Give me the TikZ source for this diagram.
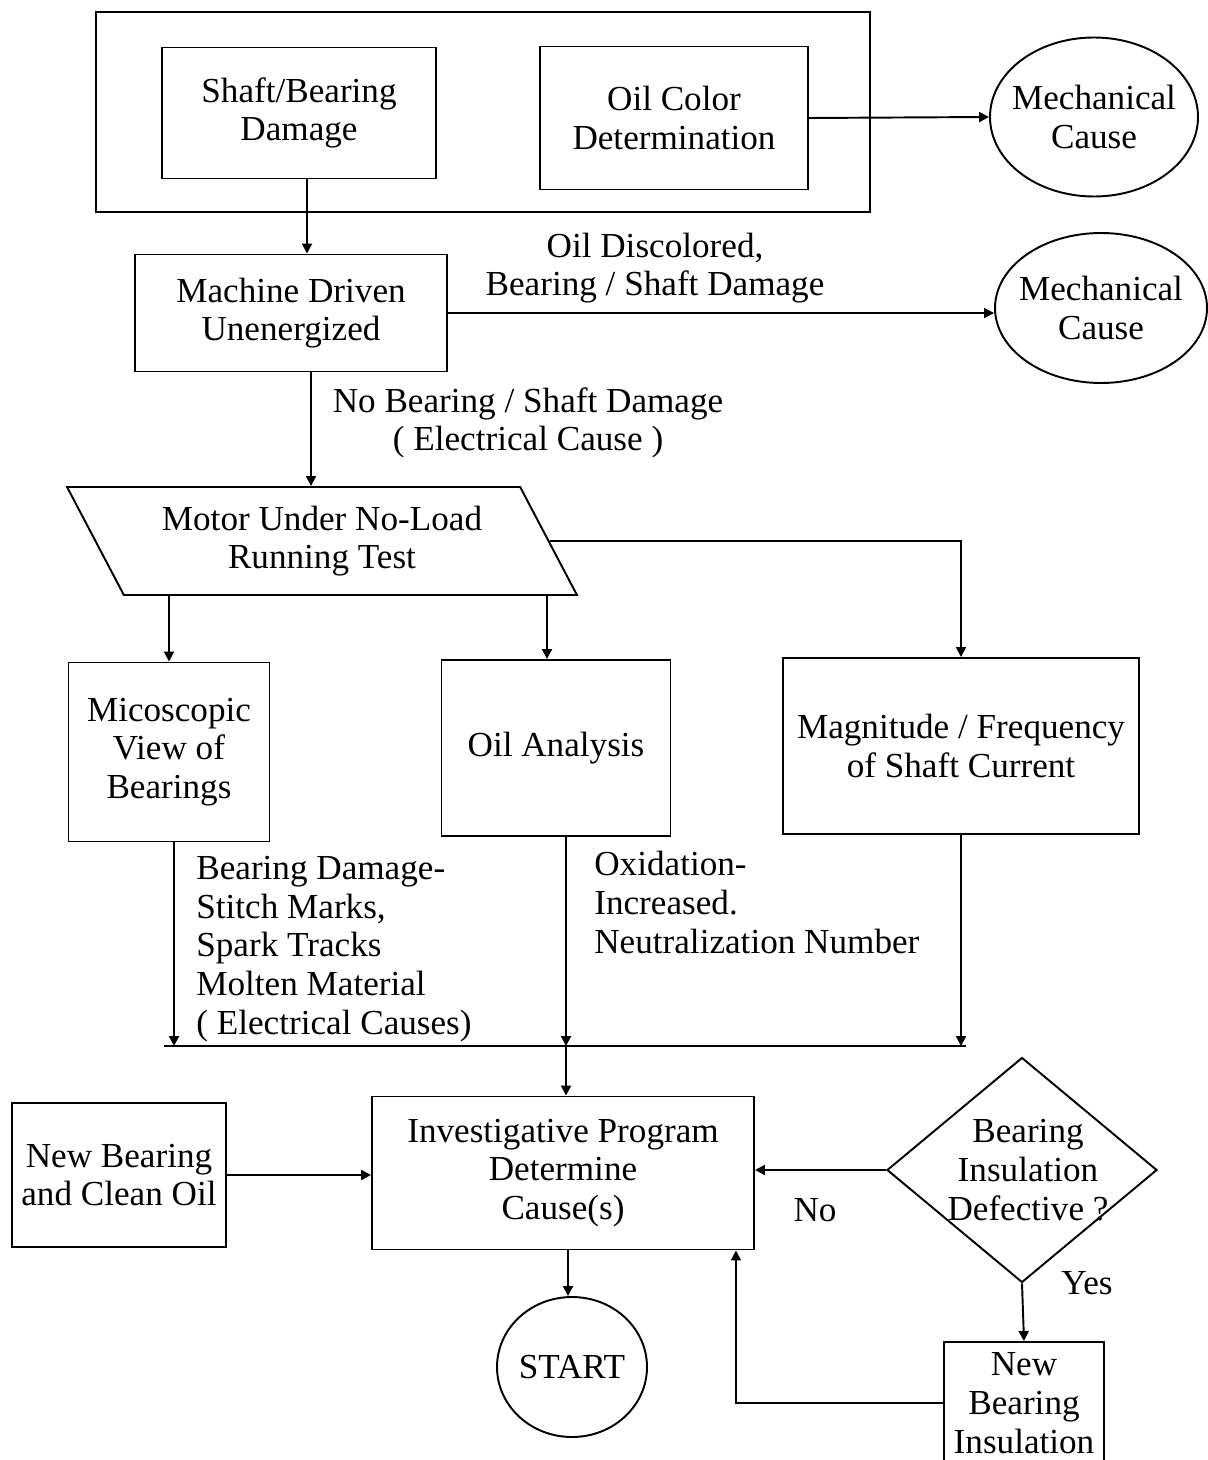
\documentclass[tikz,border=0pt]{standalone}
\usepackage{fontspec}
\setmainfont{Liberation Serif}
\usetikzlibrary{arrows.meta,positioning,shapes.geometric}
\tikzset{
  blk/.style={draw,line width=1.1pt,align=center,inner sep=2pt},
  ovl/.style={ellipse,draw,line width=1.1pt,align=center,inner sep=-3mm},
  dec/.style={diamond,draw,line width=1.1pt,inner sep=0pt},
  io/.style={trapezium,trapezium left angle=123,trapezium right angle=57,
    trapezium stretches=true,draw,line width=1.1pt,align=center,inner sep=0pt},
  txt/.style={align=center,inner sep=0pt},
  ln/.style={line width=1.1pt},
  ar/.style={-{Triangle[length=2mm,width=2mm]},line width=1.1pt},
}

\begin{document}
\begin{tikzpicture}[x=0.2mm,y=-0.2mm,font=\fontsize{20}{22}\selectfont]
  \useasboundingbox (0,0) rectangle (1207,1460);

  % first check
  \draw[ln] (96,12) rectangle (870,212);
  \node[blk,minimum width=54.8mm,minimum height=26.2mm] (sbd) at (299,113) {Shaft/Bearing\\Damage};
  \node[blk,minimum width=53.6mm,minimum height=28.6mm] (ocd) at (674,118) {Oil Color\\Determination};
  \node[ovl,minimum width=41.6mm,minimum height=31.8mm] (mc1) at (1094,117) {Mechanical\\Cause};
  \draw[ar] (ocd.east) -- (mc1.west);

  \node[blk,minimum width=62.4mm,minimum height=23.4mm] (mdu) at (291,313) {Machine Driven\\Unenergized};
  \node[ovl,minimum width=42.4mm,minimum height=30mm] (mc2) at (1101,308) {Mechanical\\Cause};
  \draw[ar] ([xshift=1.6mm]sbd.south) -- ([xshift=1.6mm]sbd.south |- mdu.north);
  \draw[ar] (mdu.east) -- (mdu.east -| mc2.west);
  \node[txt] (odl) at (655,268) {Oil Discolored,\\Bearing / Shaft Damage};

  % no-load test and its three branches
  \node[io,minimum width=102.2mm,minimum height=21.6mm] (mnl) at (322,541) {Motor Under No-Load\\Running Test};
  \draw[ar] ([xshift=4mm]mdu.south) -- ([xshift=4mm]mdu.south |- mnl.north);
  \node[txt] (nbl) at (528,423) {No Bearing / Shaft Damage\\( Electrical Cause )};

  \node[blk,minimum width=40.2mm,minimum height=35.8mm] (mvb) at (169,752) {Micoscopic\\View of\\Bearings};
  \node[blk,minimum width=45.8mm,minimum height=35.2mm] (oan) at (556,748) {Oil Analysis};
  \node[blk,minimum width=71.2mm,minimum height=35.2mm] (mfs) at (961,746) {Magnitude / Frequency\\of Shaft Current};
  \draw[ar] (mvb.north |- mnl.south) -- (mvb.north);
  \draw[ar] ([xshift=-1.8mm]oan.north |- mnl.south) -- ([xshift=-1.8mm]oan.north);
  \draw[ar] (mnl.east) -| (mfs.north);

  \node[txt,align=left,anchor=north west] (dml) at (196,856) {Bearing Damage-\\Stitch Marks,\\Spark Tracks\\Molten Material\\( Electrical Causes)};
  \node[txt,align=left,anchor=north west] (oxl) at (594,851) {Oxidation-\\Increased.\\Neutralization Number};

  % collecting line
  \coordinate (bus) at (566,1046);
  \draw[ar] ([xshift=1mm]mvb.south) -- ([xshift=1mm]mvb.south |- bus);
  \draw[ar] ([xshift=2mm]oan.south) -- (bus);
  \draw[ar] (mfs.south) -- (mfs.south |- bus);
  \draw[ln] ([xshift=-1mm]mvb.south |- bus) -- ([xshift=1mm]mfs.south |- bus);

  % investigation
  \node[blk,minimum width=76.4mm,minimum height=30.6mm] (ipd) at (563,1173) {Investigative Program\\Determine\\Cause(s)};
  \node[blk,minimum width=42.8mm,minimum height=28.8mm] (nbo) at (119,1175) {New Bearing\\and Clean Oil};
  \node[dec,minimum width=54mm,minimum height=45mm] (bid) at (1022,1170) {};
  \node[txt] (bidt) at (1028,1170) {Bearing\\Insulation\\Defective ?};
  \node[blk,inner sep=0pt,minimum width=32mm,minimum height=24.4mm] (nbi) at (1024,1403) {New\\Bearing\\Insulation};
  \node[ovl,minimum width=30mm,minimum height=28mm] (start) at (572,1367) {START};

  \draw[ar] (bus) -- (bus |- ipd.north);
  \draw[ar] (nbo.east) -- (nbo.east -| ipd.west);
  \draw[ar] (bid.west) -- (bid.west -| ipd.east);
  \draw[ar] (bid.south) -- (nbi.north);
  \draw[ar] (nbi.west) -| ([xshift=-3.8mm]ipd.south east);
  \draw[ar] ([xshift=1mm]ipd.south) -- ([xshift=1mm]ipd.south |- start.north);
  \node (nol) at (815,1210) {No};
  \node (yel) at (1087,1283) {Yes};
\end{tikzpicture}
\end{document}
